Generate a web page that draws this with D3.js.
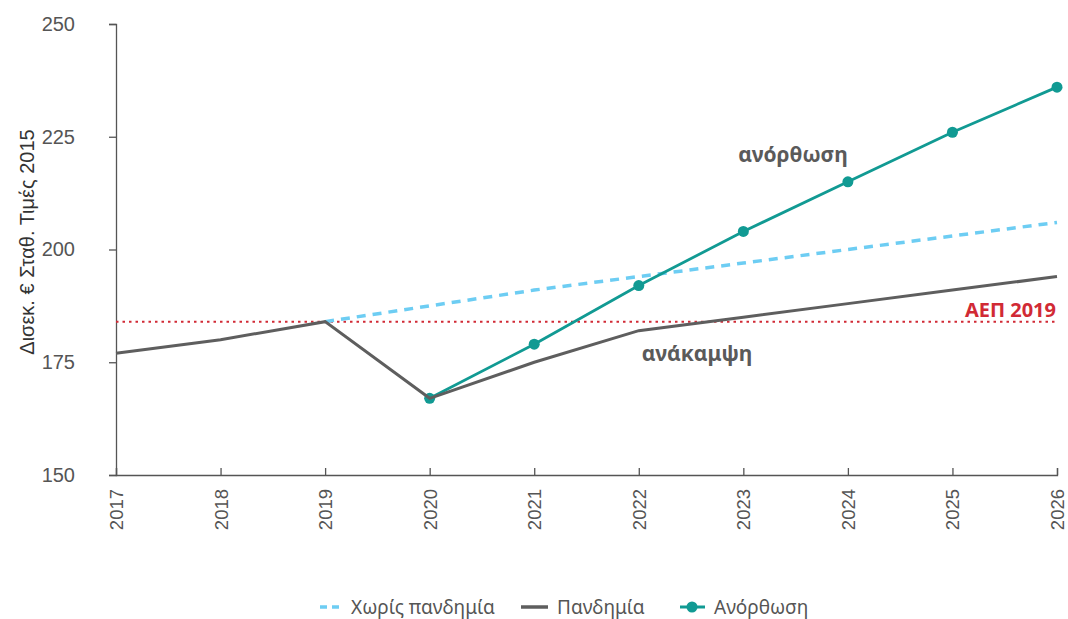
<!DOCTYPE html>
<html>
<head>
<meta charset="utf-8">
<script src="https://cdn.jsdelivr.net/npm/d3@7"></script>
<style>
  html, body { margin: 0; padding: 0; background: #fff; }
  svg { display: block; }
</style>
</head>
<body>
<div id="chart"></div>
<script>
// years on the x axis
const years = [2017, 2018, 2019, 2020, 2021, 2022, 2023, 2024, 2025, 2026];
// Πανδημία
const pandemic = [177, 180, 184, 167, 175, 182, 185, 188, 191, 194];
// Χωρίς πανδημία (from 2019)
const noPandemicYears = [2019, 2020, 2021, 2022, 2023, 2024, 2025, 2026];
const noPandemic = [184, 187.5, 191, 194, 197, 200, 203, 206];
// Ανόρθωση (from 2020)
const recoveryYears = [2020, 2021, 2022, 2023, 2024, 2025, 2026];
const recovery = [167, 179, 192, 204, 215, 226, 236];
const yTicks = [150, 175, 200, 225, 250];
const gdp2019 = 184;

const W = 1068, H = 619;
const margin = {top: 24, right: 11, bottom: 144, left: 116};

const svg = d3.select('#chart').append('svg')
  .attr('width', W).attr('height', H);

const x = d3.scaleLinear().domain([2017, 2026]).range([margin.left, W - margin.right]);
const y = d3.scaleLinear().domain([150, 250]).range([H - margin.bottom, margin.top]);

const axisColor = '#555';
const tickFont = '"Liberation Sans", Arial, sans-serif';
const roundFont = '"Noto Sans", "Open Sans", sans-serif';

// left axis
const yAxis = svg.append('g')
  .attr('transform', 'translate(' + margin.left + ',0)')
  .call(d3.axisLeft(y).tickValues(yTicks).tickSize(7).tickPadding(34).tickSizeOuter(7));
yAxis.selectAll('path, line').attr('stroke', axisColor).attr('stroke-width', 1.3);
yAxis.selectAll('text')
  .attr('fill', '#555').attr('font-family', tickFont).attr('font-size', 20);

// bottom axis, ticks pointing up
const xAxis = svg.append('g')
  .attr('transform', 'translate(0,' + y(150) + ')')
  .call(d3.axisBottom(x).tickValues(years).tickFormat(d3.format('d')).tickSize(-7).tickSizeOuter(-7));
xAxis.selectAll('path, line').attr('stroke', axisColor).attr('stroke-width', 1.3);
xAxis.selectAll('text')
  .attr('fill', '#555').attr('font-family', tickFont).attr('font-size', 18.5)
  .attr('text-anchor', 'end')
  .attr('transform', 'rotate(-90)')
  .attr('x', -14).attr('y', 0).attr('dy', '0.35em');

// y axis title
svg.append('text')
  .attr('transform', 'translate(34,' + 242 + ') rotate(-90)')
  .attr('text-anchor', 'middle')
  .attr('fill', '#333').attr('font-family', tickFont).attr('font-size', 20)
  .text('Δισεκ. € Σταθ. Τιμές  2015');

// ΑΕΠ 2019 reference line
svg.append('line')
  .attr('x1', x(2017)).attr('x2', x(2026))
  .attr('y1', y(gdp2019)).attr('y2', y(gdp2019))
  .attr('stroke', '#d12a35').attr('stroke-width', 2)
  .attr('stroke-dasharray', '2.5,4');
svg.append('text')
  .attr('x', x(2026) - 1).attr('y', y(gdp2019) - 5)
  .attr('text-anchor', 'end')
  .attr('fill', '#d12a35').attr('font-family', roundFont).attr('font-weight', 'bold').attr('font-size', 20)
  .text('ΑΕΠ 2019');

const line = d3.line().x(d => x(d[0])).y(d => y(d[1]));

// Χωρίς πανδημία
svg.append('path')
  .datum(d3.zip(noPandemicYears, noPandemic))
  .attr('d', line)
  .attr('fill', 'none').attr('stroke', '#6dcdf3').attr('stroke-width', 3.5)
  .attr('stroke-dasharray', '9,7');

// Ανόρθωση
svg.append('path')
  .datum(d3.zip(recoveryYears, recovery))
  .attr('d', line)
  .attr('fill', 'none').attr('stroke', '#119a93').attr('stroke-width', 2.8);
svg.selectAll('.rec-dot')
  .data(d3.zip(recoveryYears, recovery))
  .enter().append('circle')
  .attr('class', 'rec-dot')
  .attr('cx', d => x(d[0])).attr('cy', d => y(d[1]))
  .attr('r', 5.5).attr('fill', '#119a93');

// Πανδημία
svg.append('path')
  .datum(d3.zip(years, pandemic))
  .attr('d', line)
  .attr('fill', 'none').attr('stroke', '#5e5e5e').attr('stroke-width', 3);

// annotations
svg.append('text')
  .attr('x', 793).attr('y', 162)
  .attr('text-anchor', 'middle')
  .attr('fill', '#5a5a5a').attr('font-family', roundFont).attr('font-weight', 'bold').attr('font-size', 21)
  .text('ανόρθωση');
svg.append('text')
  .attr('x', 697).attr('y', 361)
  .attr('text-anchor', 'middle')
  .attr('fill', '#5a5a5a').attr('font-family', roundFont).attr('font-weight', 'bold').attr('font-size', 21)
  .text('ανάκαμψη');

// legend
const legY = 607;
const legend = svg.append('g').attr('font-family', roundFont).attr('font-size', 19).attr('fill', '#555');

legend.append('line')
  .attr('x1', 320).attr('x2', 344).attr('y1', legY).attr('y2', legY)
  .attr('stroke', '#6dcdf3').attr('stroke-width', 3.5).attr('stroke-dasharray', '7,5');
legend.append('text').attr('x', 351).attr('y', legY).attr('dy', '0.35em').text('Χωρίς πανδημία');

legend.append('line')
  .attr('x1', 521).attr('x2', 548).attr('y1', legY).attr('y2', legY)
  .attr('stroke', '#5e5e5e').attr('stroke-width', 3.5);
legend.append('text').attr('x', 557).attr('y', legY).attr('dy', '0.35em').text('Πανδημία');

legend.append('line')
  .attr('x1', 680).attr('x2', 705).attr('y1', legY).attr('y2', legY)
  .attr('stroke', '#119a93').attr('stroke-width', 3);
legend.append('circle')
  .attr('cx', 692).attr('cy', legY).attr('r', 5.5).attr('fill', '#119a93');
legend.append('text').attr('x', 714).attr('y', legY).attr('dy', '0.35em').text('Ανόρθωση');
</script>
</body>
</html>
